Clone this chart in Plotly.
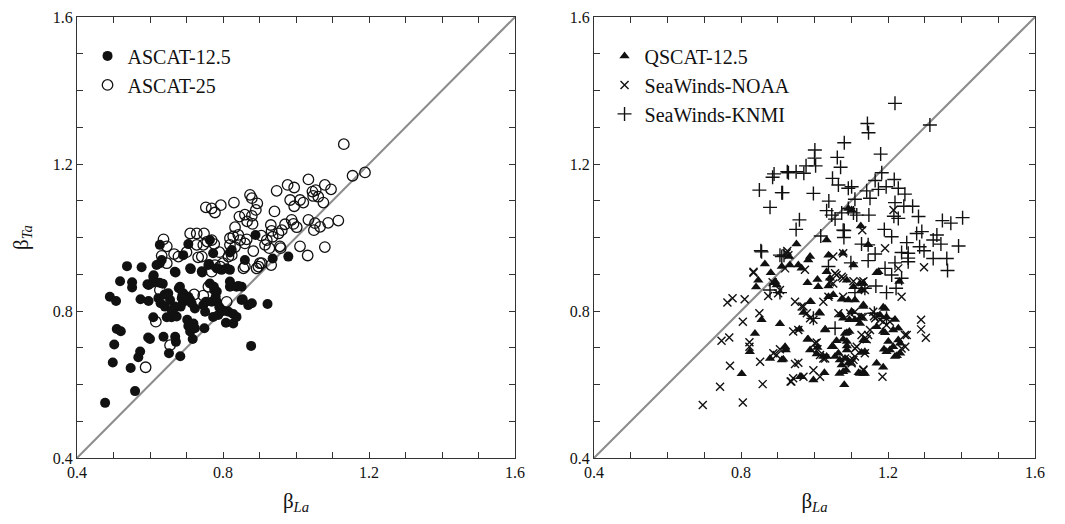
import plotly.graph_objects as go

AXIS_RANGE = [0.4, 1.6]
TICKS = [0.4, 0.8, 1.2, 1.6]
TICK_TEXT = ["0.4", "0.8", "1.2", "1.6"]

# ASCAT-12.5 (filled circles)
A125 = [
(0.477,0.55),(0.559,0.582),(0.498,0.66),(0.547,0.645),(0.568,0.674),(0.573,0.69),(0.502,0.709),
(0.509,0.751),(0.52,0.745),(0.595,0.728),(0.6,0.724),(0.637,0.73),(0.652,0.685),(0.669,0.73),
(0.671,0.716),(0.683,0.677),(0.717,0.724),(0.71,0.744),(0.705,0.759),(0.702,0.776),(0.749,0.753),
(0.877,0.705),(0.922,0.819),(0.49,0.839),(0.507,0.827),(0.518,0.881),(0.537,0.922),(0.577,0.919),
(0.551,0.878),(0.551,0.864),(0.574,0.832),(0.596,0.827),(0.593,0.873),(0.607,0.877),(0.61,0.897),
(0.626,0.877),(0.635,0.874),(0.609,0.783),(0.623,0.835),(0.629,0.821),(0.641,0.812),(0.65,0.848),
(0.655,0.83),(0.646,0.783),(0.659,0.783),(0.667,0.789),(0.67,0.905),(0.679,0.862),(0.689,0.844),
(0.691,0.825),(0.684,0.812),(0.712,0.914),(0.71,0.83),(0.723,0.807),(0.719,0.766),(0.723,0.753),
(0.751,0.798),(0.743,0.905),(0.764,0.875),(0.776,0.857),(0.78,0.839),(0.783,0.825),(0.773,0.784),
(0.787,0.789),(0.746,0.816),(0.753,0.825),(0.769,0.825),(0.808,0.768),(0.828,0.766),(0.815,0.798),
(0.828,0.792),(0.837,0.784),(0.851,0.83),(0.879,0.821),(0.869,0.816),(0.819,0.866),(0.837,0.866),
(0.851,0.866),(0.979,0.948),(0.86,0.939),(0.773,0.957),(0.762,0.928),(0.796,0.912),(0.819,0.912),
(0.705,0.982),(0.691,0.952),(0.627,0.93),(0.632,0.939),(0.936,0.943),(0.889,1.007),(0.819,0.959),
(0.824,0.966),(0.764,0.993),(0.71,0.916),(0.742,0.908),(0.627,0.98),(0.618,0.925),(0.668,0.907),
(0.783,0.916),(0.81,0.916),(0.714,0.821),(0.705,0.839),(0.691,0.848),(0.682,0.866),(0.687,0.835),
(0.668,0.812),(0.673,0.785),(0.596,0.871),(0.609,0.893),(0.854,0.832),(0.775,0.866),(0.783,0.853),
(0.76,0.925),(0.842,0.868),(0.819,0.88),(0.801,0.80),(0.79,0.81),(0.66,0.80),(0.64,0.845),
]
A125_X = [p[0] for p in A125]
A125_Y = [p[1] for p in A125]

# ASCAT-25 (open circles)
A25 = [
(1.131,1.254),(1.155,1.168),(1.189,1.177),(1.034,1.158),(0.977,1.143),(0.995,1.136),(0.947,1.127),
(1.079,1.143),(1.096,1.131),(1.045,1.125),(1.054,1.129),(1.061,1.111),(1.075,1.095),(1.047,1.113),
(0.984,1.102),(0.995,1.085),(1.011,1.102),(1.02,1.095),(0.874,1.116),(0.879,1.107),(0.894,1.093),
(0.89,1.075),(0.83,1.095),(0.753,1.082),(0.769,1.079),(0.778,1.068),(0.794,1.088),(0.941,1.071),
(0.845,1.057),(0.86,1.062),(0.866,1.044),(0.881,1.037),(0.879,1.059),(1.034,1.048),(1.052,1.039),
(1.049,1.02),(1.066,1.029),(1.088,1.04),(1.116,1.046),(0.988,1.048),(0.993,1.037),(1.002,1.028),
(0.97,1.036),(0.961,1.02),(0.952,1.011),(0.931,1.034),(0.933,1.018),(0.936,1.002),(1.079,0.974),
(1.011,0.976),(1.032,0.951),(0.958,0.971),(0.92,0.993),(0.915,0.98),(0.927,0.971),(0.883,0.963),
(0.901,0.93),(0.932,0.925),(0.897,0.921),(0.86,0.921),(0.833,1.028),(0.819,0.998),(0.828,1.003),
(0.842,1.007),(0.847,0.993),(0.86,0.984),(0.865,0.995),(0.819,0.98),(0.833,0.974),(0.824,0.952),
(0.742,0.948),(0.769,0.993),(0.776,0.982),(0.71,1.011),(0.728,1.011),(0.748,1.011),(0.728,0.98),
(0.746,0.98),(0.757,0.989),(0.637,0.995),(0.646,0.976),(0.666,0.955),(0.678,0.948),(0.646,0.93),
(0.778,0.925),(0.792,0.921),(0.769,0.907),(0.588,0.647),(0.655,0.707),(0.616,0.771),(0.627,0.857),
(0.721,0.845),(0.746,0.842),(0.81,0.825),(0.76,0.866),(0.632,0.95),(0.732,0.946),(0.815,0.948),
(0.856,0.916),(0.892,0.916),(0.906,0.93),(0.956,0.976),(0.8,0.93),(0.7,0.96),(0.79,0.96),(0.905,1.005),
]
A25_X = [p[0] for p in A25]
A25_Y = [p[1] for p in A25]

# QSCAT-12.5 (filled triangles)
QS = [
(0.865,0.928),(0.881,0.904),(0.893,0.88),(0.897,0.871),(0.911,0.921),(0.933,0.925),(0.956,0.925),
(0.965,0.916),(0.983,0.939),(0.988,0.948),(1.038,0.952),(1.077,0.957),(0.847,0.884),(0.841,0.865),
(0.838,0.739),(0.906,0.765),(0.856,0.776),(0.802,0.629),(0.824,0.689),(0.879,0.671),(0.911,0.667),
(0.92,0.703),(0.922,0.694),(0.961,0.621),(0.988,0.825),(1.015,0.794),(1.029,0.748),(0.983,0.723),
(0.988,0.694),(1.008,0.701),(1.006,0.683),(1.033,0.676),(0.997,0.612),(1.027,0.632),(1.081,0.599),
(1.051,0.703),(1.056,0.676),(1.065,0.685),(1.069,0.667),(1.074,0.653),(1.068,0.63),(1.078,0.635),
(1.086,0.639),(1.088,0.694),(1.088,0.717),(1.095,0.744),(1.083,0.739),(1.06,0.719),(1.072,0.789),
(1.078,0.78),(1.095,0.776),(1.11,0.776),(1.124,0.78),(1.133,0.721),(1.137,0.689),(1.124,0.63),
(1.133,0.63),(1.169,0.658),(1.169,0.904),(1.133,0.875),(1.128,0.857),(1.106,0.866),(1.088,0.884),
(1.074,0.832),(1.092,0.83),(1.11,0.83),(1.042,0.889),(1.038,0.868),(1.038,0.839),(1.051,0.844),
(1.008,0.886),(1.01,0.866),(0.981,0.877),(1.033,0.907),(1.106,0.925),(1.174,0.907),(1.231,0.88),
(1.133,0.816),(1.124,0.875),(0.99,0.825),(1.013,0.796),(0.97,0.796),(1.128,0.784),(1.101,0.798),
(1.124,0.766),(1.187,0.81),(1.178,0.789),(1.219,0.777),(1.029,0.75),(0.959,0.75),(1.088,0.741),
(1.078,0.723),(1.088,0.705),(1.047,0.703),(1.024,0.676),(0.92,0.701),(0.915,0.669),(0.981,0.723),
(1.083,0.671),(1.092,0.658),(1.12,0.632),(1.137,0.63),(1.187,0.647),(0.965,0.621),(1.137,0.719),
(1.128,0.687),(1.189,0.696),(1.196,0.689),(1.205,0.694),(1.214,0.703),(1.228,0.721),(1.233,0.712),
(1.224,0.678),(1.219,0.676),(1.233,0.685),(1.214,0.748),(1.228,0.753),(1.169,0.757),(1.196,0.784),
(1.192,0.741),(1.201,0.717),(1.187,0.744),(1.192,0.807),(1.133,0.812),(0.951,0.982),(1.033,0.993),
(1.146,0.98),(1.126,1.031),(1.101,1.075),(1.092,1.079),(0.89,0.877),(0.931,0.948),
]
QS_X = [p[0] for p in QS]
QS_Y = [p[1] for p in QS]

# SeaWinds-NOAA (x)
NO = [
(0.696,0.544),(0.805,0.551),(0.743,0.594),(0.859,0.601),(0.77,0.651),(0.852,0.662),(0.747,0.719),
(0.768,0.728),(0.823,0.703),(0.823,0.715),(0.805,0.771),(0.85,0.794),(0.763,0.823),(0.777,0.835),
(0.81,0.832),(0.834,0.904),(0.874,0.841),(0.901,0.848),(0.92,0.916),(0.929,0.952),(0.947,0.825),
(0.97,0.812),(0.979,0.794),(0.988,0.78),(0.997,0.776),(0.942,0.744),(0.956,0.748),(0.906,0.696),
(0.897,0.68),(0.888,0.685),(0.947,0.656),(0.956,0.659),(0.935,0.608),(0.942,0.617),(0.97,0.621),
(0.997,0.639),(1.015,0.621),(1.001,0.712),(1.008,0.696),(1.015,0.68),(1.029,0.671),(1.024,0.825),
(1.038,0.839),(1.051,0.875),(1.056,0.903),(1.078,0.889),(1.065,0.794),(1.106,0.881),(1.115,0.703),
(1.133,0.639),(1.097,0.794),(1.11,0.798),(1.133,0.784),(1.151,0.748),(1.16,0.798),(1.165,0.78),
(1.083,0.671),(1.097,0.667),(1.101,0.658),(1.298,0.919),(1.237,0.839),(1.29,0.776),(1.29,0.75),
(1.303,0.727),(1.251,0.735),(1.247,0.703),(1.185,0.621),(1.133,0.881),(1.137,0.857),(1.187,0.771),
(1.146,0.735),(1.128,0.735),(1.11,0.698),(1.106,0.667),(1.237,0.698),(0.965,0.812),(1.006,0.714),
(1.024,0.671),(0.937,0.608),(1.042,0.878),(1.074,0.893),(1.128,0.878),(1.078,0.839),(1.128,0.784),
(1.162,0.786),(1.178,0.776),(1.196,0.762),(1.205,0.771),(1.142,0.723),(1.137,0.685),(1.101,0.662),
(1.11,0.676),(1.133,0.641),(1.228,0.916),(1.246,0.735),(1.051,0.948),(1.078,0.957),(0.974,0.912),
(0.924,0.957),(1.215,1.075),(1.13,1.02),(0.926,0.963),(0.834,0.907),(1.192,0.971),(1.06,0.898),
(0.886,0.878),(0.906,0.857),
]
NO_X = [p[0] for p in NO]
NO_Y = [p[1] for p in NO]

# SeaWinds-KNMI (+)
KN = [
(1.219,1.365),(1.314,1.306),(1.144,1.31),(1.147,1.285),(1.081,1.258),(1.001,1.238),(1.0,1.216),
(1.003,1.195),(0.977,1.195),(0.971,1.175),(0.95,1.179),(0.926,1.179),(1.18,1.227),(1.062,1.218),
(1.071,1.191),(0.913,1.122),(0.997,1.12),(1.049,1.161),(1.065,1.143),(1.092,1.134),(1.101,1.138),
(1.142,1.127),(1.174,1.131),(1.195,1.138),(1.183,1.176),(1.165,1.155),(1.217,1.158),(1.228,1.134),
(1.246,1.118),(1.219,1.095),(1.243,1.085),(1.267,1.085),(1.216,1.058),(1.228,1.052),(1.283,1.057),
(1.11,1.104),(1.151,1.107),(1.039,1.099),(1.033,1.073),(1.047,1.061),(1.056,1.05),(1.074,1.067),
(1.092,1.079),(1.106,1.067),(1.115,1.061),(1.148,1.061),(0.959,1.048),(0.95,1.022),(1.017,1.004),
(1.081,1.019),(1.08,1.0),(1.19,1.022),(1.21,1.002),(1.278,1.011),(1.292,1.016),(1.333,1.007),
(1.348,1.046),(1.371,1.039),(1.403,1.054),(1.323,0.993),(1.344,0.982),(1.392,0.977),(1.128,0.982),
(1.146,0.98),(1.165,0.955),(1.251,0.986),(1.237,0.959),(1.255,0.957),(1.255,0.944),(1.255,0.934),
(1.286,0.975),(1.298,0.964),(1.323,0.943),(1.36,0.943),(1.146,0.937),(1.099,0.931),(1.038,0.921),
(0.906,0.952),(1.219,0.931),(1.362,0.91),(1.192,0.916),(1.21,0.898),(1.237,0.889),(1.222,0.862),
(1.196,0.85),(1.167,0.868),(1.137,0.862),(1.11,0.85),(0.997,0.78),(1.056,0.753),(1.196,0.78),
(1.163,0.794),(0.856,0.961),(0.911,0.948),(0.879,0.857),(0.906,0.85),(0.85,1.129),(0.89,1.173),
(0.886,1.164),(0.929,1.176),(0.911,1.122),(0.879,1.082),(0.854,0.964),(0.917,0.952),(1.078,1.02),
]
KN_X = [p[0] for p in KN]
KN_Y = [p[1] for p in KN]

FONT = "Liberation Serif"
INK = "#111111"

fig = go.Figure()

# diagonal 1:1 lines
for xa, ya in [("x", "y"), ("x2", "y2")]:
    fig.add_trace(go.Scatter(x=AXIS_RANGE, y=AXIS_RANGE, mode="lines", xaxis=xa, yaxis=ya,
                             line=dict(color="#8c8c8c", width=2), showlegend=False, hoverinfo="skip"))

fig.add_trace(go.Scatter(x=A125_X, y=A125_Y, mode="markers", name="ASCAT-12.5", legend="legend",
                         marker=dict(symbol="circle", size=10, color=INK, line=dict(width=0)),
                         xaxis="x", yaxis="y"))
fig.add_trace(go.Scatter(x=A25_X, y=A25_Y, mode="markers", name="ASCAT-25", legend="legend",
                         marker=dict(symbol="circle-open", size=10.5, color=INK, line=dict(width=1.3, color=INK)),
                         xaxis="x", yaxis="y"))

fig.add_trace(go.Scatter(x=QS_X, y=QS_Y, mode="markers", name="QSCAT-12.5", legend="legend2",
                         marker=dict(symbol="triangle-up", size=9, color=INK, line=dict(width=0)),
                         xaxis="x2", yaxis="y2"))
fig.add_trace(go.Scatter(x=NO_X, y=NO_Y, mode="markers", name="SeaWinds-NOAA", legend="legend2",
                         marker=dict(symbol="x-thin", size=8, color=INK, line=dict(width=1.4, color=INK)),
                         xaxis="x2", yaxis="y2"))
fig.add_trace(go.Scatter(x=KN_X, y=KN_Y, mode="markers", name="SeaWinds-KNMI", legend="legend2",
                         marker=dict(symbol="cross-thin", size=10, color=INK, line=dict(width=1.4, color=INK)),
                         xaxis="x2", yaxis="y2"))

# page body adds an 8px offset; size the figure so the plot lands where the reference has it
W, H = 1057, 516
L, R, T, B = 69, 30, 9, 66
PW = W - L - R
left_dom = [0, 438 / PW]
right_dom = [(586 - L) / PW, 1]

def axis_common():
    return dict(range=AXIS_RANGE, tickmode="array", tickvals=TICKS, ticktext=TICK_TEXT,
                ticks="inside", ticklen=6, tickwidth=1.2, tickcolor="#333",
                showline=True, linecolor="#333", linewidth=1.3, mirror="ticks",
                showgrid=False, zeroline=False, automargin=False,
                minor=dict(dtick=0.1, tick0=0.4, ticks="inside", ticklen=6, tickwidth=1.2,
                           tickcolor="#333", showgrid=False),
                tickfont=dict(family=FONT, size=16, color=INK))

title_x = dict(text="β<sub><i>La</i></sub>", font=dict(family=FONT, size=21, color=INK), standoff=12)
title_y = dict(text="β<sub><i>Ta</i></sub>", font=dict(family=FONT, size=21, color=INK), standoff=18)

fig.update_layout(
    width=W, height=H,
    margin=dict(l=L, r=R, t=T, b=B, autoexpand=False),
    paper_bgcolor="white", plot_bgcolor="white",
    font=dict(family=FONT, color=INK),
    xaxis=dict(domain=left_dom, anchor="y", title=title_x, **axis_common()),
    yaxis=dict(domain=[0, 1], anchor="x", title=title_y, **axis_common()),
    xaxis2=dict(domain=right_dom, anchor="y2", title=title_x, **axis_common()),
    yaxis2=dict(domain=[0, 1], anchor="x2", **axis_common()),
    legend=dict(x=0.011, y=0.956, xanchor="left", yanchor="top", bgcolor="rgba(0,0,0,0)",
                font=dict(family=FONT, size=20, color=INK), itemwidth=30, tracegroupgap=0),
    legend2=dict(x=right_dom[0] + 0.011, y=0.956, xanchor="left", yanchor="top", bgcolor="rgba(0,0,0,0)",
                 font=dict(family=FONT, size=20, color=INK), itemwidth=30, tracegroupgap=0),
    showlegend=True,
)

fig.write_html("out.html")
